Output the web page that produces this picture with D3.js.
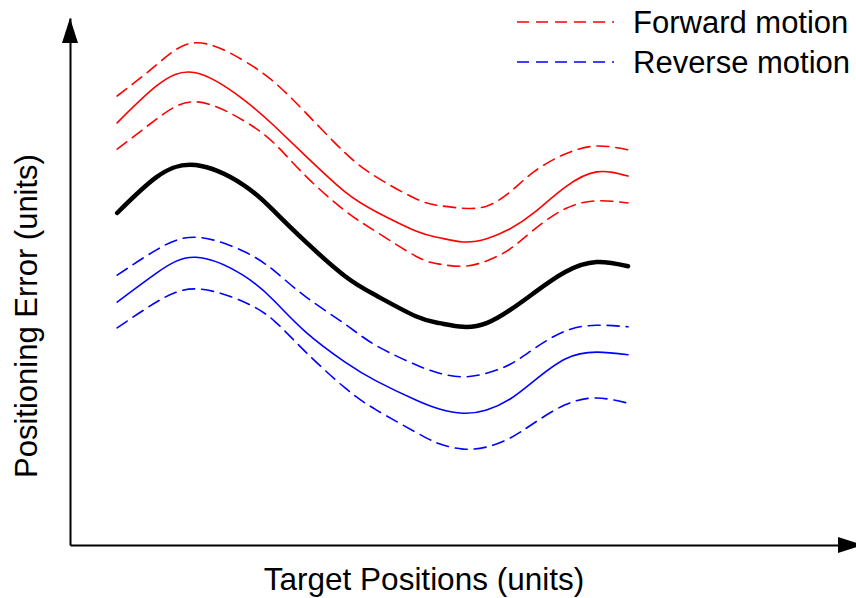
<!DOCTYPE html>
<html>
<head>
<meta charset="utf-8">
<script src="https://cdn.jsdelivr.net/npm/d3@7"></script>
<style>
  html, body { margin: 0; padding: 0; background: #fff; }
  svg { display: block; }
  text { font-family: "Liberation Sans", Arial, sans-serif; fill: #000; }
</style>
</head>
<body>
<svg id="chart" width="856" height="598"></svg>
<script>
// Target positions (units) shared by every curve
const positions = [6, 11, 16, 22, 26, 30, 35, 39, 44, 47, 50, 53, 56, 59, 63, 67, 71];

// Mean positioning error
const meanError = [63.0, 69.8, 72.1, 68.4, 63.3, 57.5, 51.0, 47.3, 43.4, 42.1, 41.4, 42.1, 44.6, 47.8, 51.8, 53.7, 52.9];

// Forward motion: mean and its spread band
const forwardMean  = [80.1, 87.1, 89.6, 84.6, 79.5, 73.8, 67.0, 63.2, 59.6, 58.3, 57.5, 58.1, 60.0, 63.0, 67.9, 70.8, 70.0];
const forwardUpper = [85.2, 91.1, 95.3, 92.0, 87.8, 82.0, 74.4, 69.8, 65.7, 64.4, 63.9, 64.3, 67.0, 70.8, 74.2, 75.7, 75.0];
const forwardLower = [75.1, 80.8, 84.1, 80.6, 76.2, 70.0, 63.4, 59.4, 54.8, 53.3, 52.9, 53.9, 56.2, 59.8, 63.8, 65.3, 64.9];

// Reverse motion: mean and its spread band
const reverseMean  = [46.1, 51.6, 54.6, 51.2, 46.3, 40.4, 34.7, 31.1, 27.5, 25.8, 25.0, 25.6, 27.7, 31.1, 35.3, 36.6, 36.1];
const reverseUpper = [51.2, 56.0, 58.4, 55.8, 52.0, 47.1, 41.9, 37.8, 34.2, 32.6, 31.9, 32.6, 34.3, 37.2, 40.6, 41.7, 41.4];
const reverseLower = [41.2, 46.1, 48.6, 46.2, 42.5, 36.6, 29.8, 25.6, 21.4, 19.2, 18.2, 18.6, 20.3, 23.1, 26.6, 27.9, 26.9];

const legendLabels = ["Forward motion", "Reverse motion"];
const xLabel = "Target Positions (units)";
const yLabel = "Positioning Error (units)";

const svg = d3.select("#chart");

const x = d3.scaleLinear().domain([0, 100]).range([70, 856]);
const y = d3.scaleLinear().domain([0, 100]).range([545, 18]);

// Axes: bare lines with arrowheads, no ticks
svg.append("g")
  .attr("transform", `translate(0,${y(0)})`)
  .call(d3.axisBottom(x).tickValues([]).tickSizeOuter(0))
  .select(".domain").attr("stroke", "#000").attr("stroke-width", 2);

svg.append("g")
  .attr("transform", `translate(${x(0)},0)`)
  .call(d3.axisLeft(y).tickValues([]).tickSizeOuter(0))
  .select(".domain").attr("stroke", "#000").attr("stroke-width", 2);

// Arrowheads
const x0 = x(0), y0 = y(0), xEnd = x(100), yEnd = y(100);
svg.append("path")
  .attr("d", `M${xEnd + 7},${y0} L${xEnd - 18},${y0 - 8} L${xEnd - 18},${y0 + 8} Z`)
  .attr("fill", "#000");
svg.append("path")
  .attr("d", `M${x0},${yEnd} L${x0 - 8},${yEnd + 25} L${x0 + 8},${yEnd + 25} Z`)
  .attr("fill", "#000");

const line = d3.line()
  .x((d, i) => x(positions[i]))
  .y(d => y(d))
  .curve(d3.curveNatural);

const series = [
  { values: forwardUpper, color: "#ff0000", width: 1.6, dash: "12,7" },
  { values: forwardMean,  color: "#ff0000", width: 1.6, dash: null },
  { values: forwardLower, color: "#ff0000", width: 1.6, dash: "12,7" },
  { values: reverseUpper, color: "#0000ff", width: 1.6, dash: "12,7" },
  { values: reverseMean,  color: "#0000ff", width: 1.6, dash: null },
  { values: reverseLower, color: "#0000ff", width: 1.6, dash: "12,7" },
  { values: meanError,    color: "#000000", width: 4.5, dash: null }
];

svg.append("g").selectAll("path")
  .data(series)
  .join("path")
  .attr("d", d => line(d.values))
  .attr("fill", "none")
  .attr("stroke", d => d.color)
  .attr("stroke-width", d => d.width)
  .attr("stroke-linecap", "round")
  .attr("stroke-dasharray", d => d.dash);

// Legend
const legend = svg.append("g");
const legendItems = [
  { label: legendLabels[0], color: "#ff0000", cy: 22, base: 33 },
  { label: legendLabels[1], color: "#0000ff", cy: 62, base: 73 }
];
legendItems.forEach(item => {
  legend.append("line")
    .attr("x1", 517).attr("x2", 614)
    .attr("y1", item.cy).attr("y2", item.cy)
    .attr("stroke", item.color).attr("stroke-width", 1.6)
    .attr("stroke-dasharray", "12,7");
  legend.append("text")
    .attr("x", 633).attr("y", item.base)
    .attr("font-size", 31)
    .text(item.label);
});

// Axis titles
svg.append("text")
  .attr("x", 424).attr("y", 590)
  .attr("text-anchor", "middle")
  .attr("font-size", 31.5)
  .text(xLabel);

svg.append("text")
  .attr("transform", "translate(37,316) rotate(-90)")
  .attr("text-anchor", "middle")
  .attr("font-size", 31)
  .text(yLabel);
</script>
</body>
</html>
